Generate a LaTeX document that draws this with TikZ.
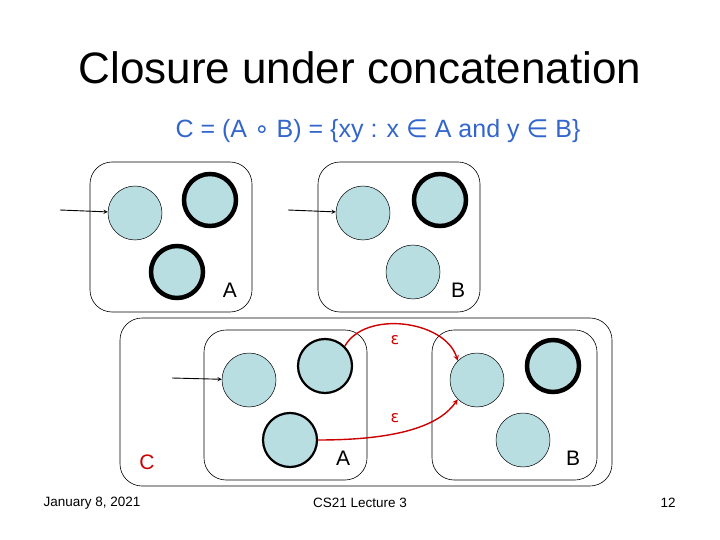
\documentclass[tikz,border=0pt]{standalone}
\usepackage{fontspec}
\setmainfont{Liberation Sans}
\newfontfamily\symfont{DejaVu Sans}
\usetikzlibrary{arrows}
\definecolor{statefill}{RGB}{184,222,226}
\definecolor{formblue}{RGB}{51,102,204}
\definecolor{epsred}{RGB}{204,0,0}
\tikzstyle{plain} = [circle, minimum size=54pt, inner sep=0pt, fill=statefill, draw=black, line width=0.5pt]
\tikzstyle{accept} = [plain, line width=4.5pt, minimum size=52pt]
\tikzstyle{formerly} = [plain, line width=2.2pt, minimum size=54pt]
\tikzstyle{machine} = [draw=black, rounded corners=22pt, line width=0.6pt]
\tikzstyle{arrow} = [->,>=stealth, line width=0.9pt]
\tikzstyle{eps} = [->,>=stealth, line width=1.4pt, draw=epsred]

\begin{document}
\begin{tikzpicture}[x=1pt,y=-1pt]
  \useasboundingbox (0,0) rectangle (720,540);
  \node (title) at (360,68) {\fontsize{44}{46}\selectfont Closure under concatenation};
  \node (formula) at (378,131) [text=formblue] {\fontsize{25}{27}\selectfont C = (A {\symfont∘} B) = \{xy : x {\symfont∈} A and y {\symfont∈} B\}};
  % machine A
  \draw [machine] (90,162) rectangle (252,312);
  \node (a1) [plain] at (135,213) {};
  \node (a2) [accept] at (210,200) {};
  \node (a3) [accept] at (177,272) {};
  \node (labA) at (230,290) {\fontsize{21}{23}\selectfont A};
  \coordinate (ina) at (60,210);
  \draw [arrow] (ina) -- (a1);
  % machine B
  \draw [machine] (318,162) rectangle (480,312);
  \node (b1) [plain] at (363,213) {};
  \node (b2) [accept] at (440,200) {};
  \node (b3) [plain] at (413,272) {};
  \node (labB) at (458,290) {\fontsize{21}{23}\selectfont B};
  \coordinate (inb) at (288,210);
  \draw [arrow] (inb) -- (b1);
  % machine C
  \draw [machine] (120,318) rectangle (612,486);
  \node (labC) at (147,462) [text=epsred] {\fontsize{21}{23}\selectfont C};
  \draw [machine] (204,330) rectangle (367,480);
  \node (ca1) [plain] at (249,380) {};
  \node (ca2) [formerly] at (325,366) {};
  \node (ca3) [formerly] at (290,440) {};
  \node (labCA) at (343,458) {\fontsize{21}{23}\selectfont A};
  \coordinate (inc) at (172,378);
  \draw [arrow] (inc) -- (ca1);
  \draw [machine] (432,330) rectangle (597,480);
  \node (cb1) [plain] at (477,380) {};
  \node (cb2) [accept] at (553,366) {};
  \node (cb3) [plain] at (523,440) {};
  \node (labCB) at (573,458) {\fontsize{21}{23}\selectfont B};
  %now connect
  \draw [eps] (ca2.north east) .. controls (365,310) and (445,320) .. (cb1.north west);
  \draw [eps] (ca3.east) .. controls (400,440) and (440,425) .. (cb1.south west);
  \node (e1) at (395,340) [text=epsred] {\fontsize{16}{18}\selectfont\symfont ε};
  \node (e2) at (395,418) [text=epsred] {\fontsize{16}{18}\selectfont\symfont ε};
  % footer
  \node (date) at (92,503) {\fontsize{13.5}{15}\selectfont January 8, 2021};
  \node (lect) at (360,503) {\fontsize{13.5}{15}\selectfont CS21 Lecture 3};
  \node (page) at (668,503) {\fontsize{13.5}{15}\selectfont 12};
\end{tikzpicture}
\end{document}
